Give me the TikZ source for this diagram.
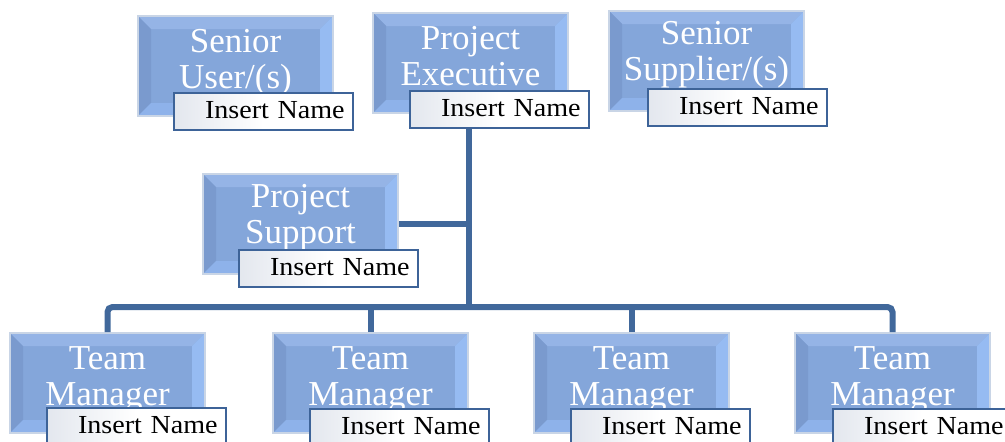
\documentclass[tikz,border=0pt]{standalone}
\usepackage{fontspec}
\setmainfont{Liberation Serif}
\newfontfamily\namefont{Liberation Serif}[FakeStretch=1.08]
\definecolor{boxmain}{HTML}{84A6DA}
\definecolor{bvtop}{HTML}{95B4E6}
\definecolor{bvleft}{HTML}{7A9ACE}
\definecolor{bvright}{HTML}{96BBF2}
\definecolor{bvbottom}{HTML}{8EB2EA}
\definecolor{boxedge}{HTML}{C9D5E6}
\definecolor{conn}{HTML}{41689B}
\definecolor{nameedge}{HTML}{3D6398}
\definecolor{namegray}{HTML}{E3E7EE}
\tikzset{
  rolebox/.style={rectangle, anchor=north west, minimum width=195pt, minimum height=100pt,
    inner sep=0pt, fill=boxmain, draw=boxedge, line width=2pt,
    path picture={
      \fill[bvtop] (path picture bounding box.north west) -- (path picture bounding box.north east)
        -- ([shift={(-13,13)}]path picture bounding box.north east) -- ([shift={(13,13)}]path picture bounding box.north west) -- cycle;
      \fill[bvleft] (path picture bounding box.north west) -- (path picture bounding box.south west)
        -- ([shift={(13,-13)}]path picture bounding box.south west) -- ([shift={(13,13)}]path picture bounding box.north west) -- cycle;
      \fill[bvright] (path picture bounding box.north east) -- (path picture bounding box.south east)
        -- ([shift={(-13,-13)}]path picture bounding box.south east) -- ([shift={(-13,13)}]path picture bounding box.north east) -- cycle;
      \fill[bvbottom] (path picture bounding box.south west) -- (path picture bounding box.south east)
        -- ([shift={(-13,-13)}]path picture bounding box.south east) -- ([shift={(13,-13)}]path picture bounding box.south west) -- cycle;
    }},
  roletext/.style={anchor=base, align=center, text=white, inner sep=0pt,
    font=\fontsize{35}{36}\selectfont},
  namebox/.style={rectangle, anchor=north west, minimum width=179pt, minimum height=37pt,
    text width=179pt, align=left, inner xsep=0pt, inner ysep=0pt,
    text height=17pt, text depth=3.6pt,
    left color=namegray, right color=white, middle color=white, draw=nameedge, line width=2pt,
    font=\namefont\fontsize{26}{28}\selectfont, text=black},
  connector/.style={draw=conn, line width=6pt},
}
\begin{document}
\begin{tikzpicture}[x=1pt, y=-1pt]
\useasboundingbox (0,0) rectangle (1005,442);
% role boxes
\node[rolebox] (su) at (137,15) {};
\node[rolebox] (pe) at (372,12) {};
\node[rolebox] (ss) at (608,10) {};
\node[rolebox] (ps) at (202,173) {};
\node[rolebox] (tm1) at (9,332) {};
\node[rolebox] (tm2) at (272,332) {};
\node[rolebox] (tm3) at (533,332) {};
\node[rolebox] (tm4) at (794,332) {};
% role texts (anchor = baseline of last line)
\node[roletext] (su-t) at ([yshift=-73pt]su.north) {Senior\\User/(s)};
\node[roletext] (pe-t) at ([yshift=-73pt]pe.north) {Project\\Executive};
\node[roletext] (ss-t) at ([yshift=-70pt]ss.north) {Senior\\Supplier/(s)};
\node[roletext] (ps-t) at ([yshift=-70pt]ps.north) {Project\\Support};
\node[roletext] (tm1-t) at ([yshift=-73pt]tm1.north) {Team\\Manager};
\node[roletext] (tm2-t) at ([yshift=-73pt]tm2.north) {Team\\Manager};
\node[roletext] (tm3-t) at ([yshift=-73pt]tm3.north) {Team\\Manager};
\node[roletext] (tm4-t) at ([yshift=-73pt]tm4.north) {Team\\Manager};
% name boxes
\node[namebox] (sun) at (173,92) {\hspace*{31pt}Insert Name};
\node[namebox] (pen) at (409,90) {\hspace*{31pt}Insert Name};
\node[namebox] (ssn) at (647,88) {\hspace*{31pt}Insert Name};
\node[namebox] (psn) at (238,249) {\hspace*{31pt}Insert Name};
\node[namebox] (tm1n) at (46,407) {\hspace*{31pt}Insert Name};
\node[namebox] (tm2n) at (309,408) {\hspace*{31pt}Insert Name};
\node[namebox] (tm3n) at (570,408) {\hspace*{31pt}Insert Name};
\node[namebox] (tm4n) at (832,408) {\hspace*{31pt}Insert Name};
% connectors
\coordinate (trunk) at (469,307);
\draw[connector] (pen.south -| trunk) -- (trunk);
\draw[connector] (ps.east) -- (ps.east -| trunk);
\draw[connector, rounded corners=5pt] (tm1.north) |- (trunk) -| (tm4.north);
\draw[connector] (tm2.north) -- (tm2.north |- trunk);
\draw[connector] (tm3.north) -- (tm3.north |- trunk);
\end{tikzpicture}
\end{document}
